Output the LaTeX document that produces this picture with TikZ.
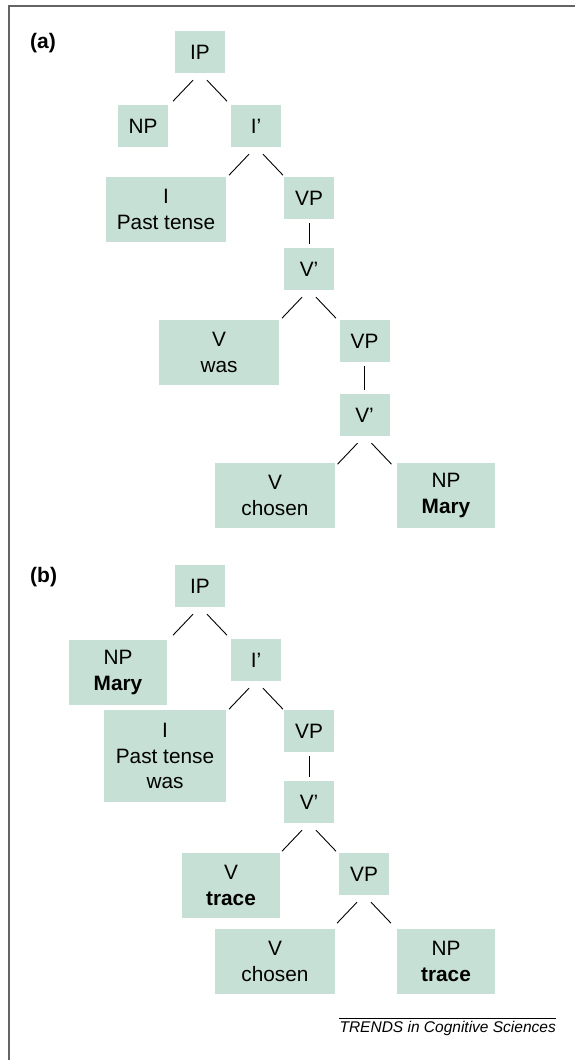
\documentclass[tikz,border=0pt]{standalone}
\usepackage{fontspec}
\setmainfont{Liberation Sans}
\definecolor{boxfill}{RGB}{198,224,213}
\definecolor{framegray}{RGB}{100,100,100}
\begin{document}
\begin{tikzpicture}[x=1pt,y=-1pt,
  cat/.style={fill=boxfill,draw=none,inner sep=0pt,align=center,
    font=\fontsize{20.8}{25.8}\selectfont},
  sm/.style={cat,minimum width=50pt,minimum height=42pt},
  wd/.style={cat,minimum width=120pt,minimum height=65pt},
  md/.style={cat,minimum width=98pt,minimum height=65pt},
  br/.style={draw=black,line width=0.9pt},
  vl/.style={br,shorten <=4pt,shorten >=4pt},
  lab/.style={font=\fontsize{21}{24}\selectfont\bfseries,anchor=base west,inner sep=0pt}]
\useasboundingbox (0,0) rectangle (574,1060);
\draw[framegray,line width=2pt] (8.5,1062) -- (8.5,6) -- (576,6);

% ---------- (a)
\node[lab] (la) at (30,48) {(a)};
\node[sm] (aIP) at (200,52) {IP};
\node[sm] (aNP) at (143,126) {NP};
\node[sm] (aIb) at (256,126) {I’};
\node[wd] (aI) at (166,209.5) {I\\Past tense};
\node[sm] (aVP) at (309,198) {VP};
\node[sm] (aVb) at (309,269) {V’};
\node[wd] (aV) at (219,352.5) {V\\was};
\node[sm] (aVP2) at (364.5,341) {VP};
\node[sm] (aVb2) at (364.5,415) {V’};
\node[wd] (aV2) at (275,495.5) {V\\chosen};
\node[md] (aNP2) at (446,495.5) {NP\\\textbf{Mary}};

\foreach \p in {aIP,aIb,aVb,aVb2}{
  \draw[br] ([shift={(-7,7)}]\p.south) -- ([shift={(-27,28)}]\p.south);
  \draw[br] ([shift={(7,7)}]\p.south) -- ([shift={(27,28)}]\p.south);
}
\draw[vl] (aVP.south) -- (aVb.north);
\draw[vl] (aVP2.south) -- (aVb2.north);

% ---------- (b)
\node[lab] (lb) at (30,582) {(b)};
\node[sm] (bIP) at (200,586) {IP};
\node[md] (bNP) at (118,672.5) {NP\\\textbf{Mary}};
\node[sm] (bIb) at (256,660) {I’};
\node[cat,minimum width=122pt,minimum height=92pt] (bI) at (165,756) {I\\Past tense\\was};
\node[sm] (bVP) at (309,731) {VP};
\node[sm] (bVb) at (309,802) {V’};
\node[md] (bV) at (231,885.5) {V\\\textbf{trace}};
\node[sm] (bVP2) at (364,874) {VP};
\node[wd] (bV2) at (275,961.5) {V\\chosen};
\node[md] (bNP2) at (446,961.5) {NP\\\textbf{trace}};

\foreach \p in {bIP,bIb,bVb,bVP2}{
  \draw[br] ([shift={(-7,7)}]\p.south) -- ([shift={(-27,28)}]\p.south);
  \draw[br] ([shift={(7,7)}]\p.south) -- ([shift={(27,28)}]\p.south);
}
\draw[vl] (bVP.south) -- (bVb.north);

% ---------- footer
\node[font=\fontsize{15.5}{18}\selectfont\itshape,anchor=base east,inner sep=0pt] (src) at (556,1032) {TRENDS in Cognitive Sciences};
\draw[line width=0.7pt] (src.north west |- 0,1018) coordinate (fl) -- (556,1018) coordinate (fr);
\end{tikzpicture}
\end{document}
